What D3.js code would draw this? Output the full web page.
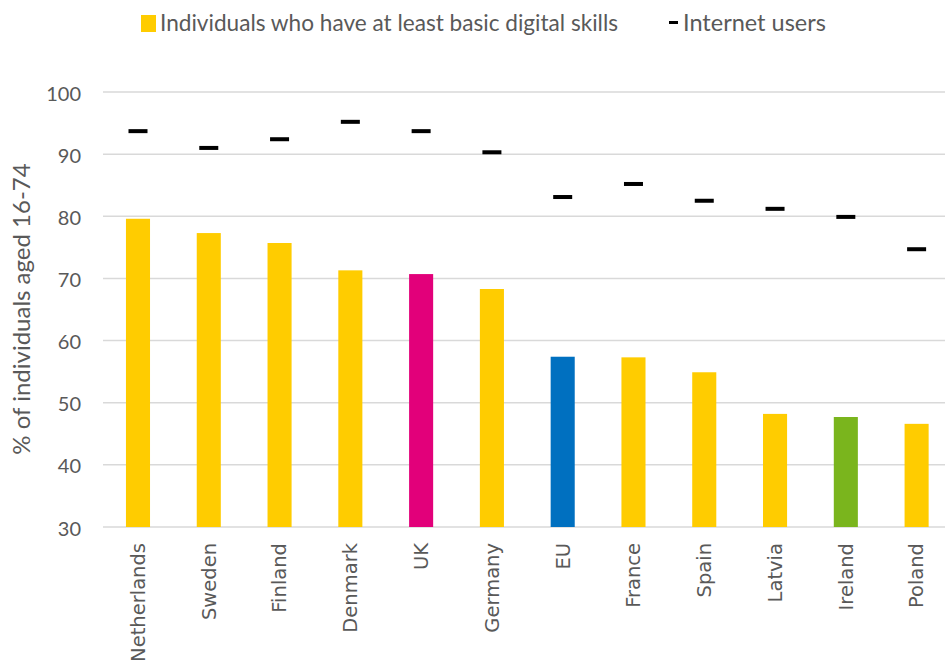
<!DOCTYPE html>
<html><head><meta charset="utf-8">
<script src="https://cdn.jsdelivr.net/npm/d3@7"></script>
<style>body{margin:0;background:#fff}</style>
</head><body>
<script>
const categories = ["Netherlands","Sweden","Finland","Denmark","UK","Germany","EU","France","Spain","Latvia","Ireland","Poland"];
const basicSkills = [79.6,77.3,75.7,71.3,70.7,68.3,57.4,57.3,54.9,48.2,47.7,46.6];
const internetUsers = [93.7,91.0,92.4,95.2,93.7,90.3,83.1,85.2,82.5,81.2,79.9,74.7];
const barColors = ["#FFCC00","#FFCC00","#FFCC00","#FFCC00","#E2007A","#FFCC00","#0070C0","#FFCC00","#FFCC00","#FFCC00","#7AB51D","#FFCC00"];
const yTicks = [30,40,50,60,70,80,90,100];
const legendLabels = ["Individuals who have at least basic digital skills","Internet users"];
const yTitle = "% of individuals aged 16-74";

const W=945,H=662;
const svg=d3.select("body").append("svg").attr("width",W).attr("height",H);
const x=d3.scaleBand().domain(categories).range([102.6,952]).paddingInner(0.66).paddingOuter(0.33);
const y=d3.scaleLinear().domain([30,100]).range([527,92]);
const txt="#595959";
const fontA="Lato, 'Open Sans', sans-serif";

// gridlines
svg.append("g").selectAll("line").data(yTicks).join("line")
  .attr("x1",103).attr("x2",W).attr("y1",d=>y(d)).attr("y2",d=>y(d))
  .attr("stroke","#D9D9D9").attr("stroke-width",1.5);

// y axis labels
const ya=svg.append("g").attr("transform","translate(81,0)").call(d3.axisLeft(y).tickValues(yTicks).tickSize(0).tickPadding(0));
ya.select(".domain").remove();
ya.attr("font-family",null).attr("font-size",null);
ya.selectAll("text").attr("fill",txt).style("font-family",fontA).style("font-size","20px").attr("dy","0.4em");

// y title
svg.append("text").attr("transform","translate(30,309) rotate(-90)").attr("text-anchor","middle")
  .attr("fill",txt).style("font-family",fontA).style("font-size","24px").text(yTitle);

// bars
svg.append("g").selectAll("rect").data(categories).join("rect")
  .attr("x",d=>x(d)).attr("width",x.bandwidth())
  .attr("y",(d,i)=>y(basicSkills[i])).attr("height",(d,i)=>y(30)-y(basicSkills[i]))
  .attr("fill",(d,i)=>barColors[i]);

// markers
const mw=19;
svg.append("g").selectAll("rect").data(categories).join("rect")
  .attr("x",d=>x(d)+x.bandwidth()/2-mw/2).attr("width",mw)
  .attr("y",(d,i)=>y(internetUsers[i])-2).attr("height",4).attr("fill","#000");

// x labels
const xa=svg.append("g").attr("transform","translate(0,527)").call(d3.axisBottom(x).tickSize(0).tickPadding(0));
xa.select(".domain").remove();
xa.attr("font-family",null).attr("font-size",null);
xa.selectAll("text").attr("fill",txt).style("font-family","'DejaVu Sans', Verdana, sans-serif").style("font-size","19.5px")
  .attr("text-anchor","end").attr("dy","0.35em").attr("transform","translate(0,16) rotate(-90)").attr("x",0).attr("y",0);

// legend
svg.append("rect").attr("x",141).attr("y",15).attr("width",15).attr("height",17).attr("fill","#FFCC00");
svg.append("text").attr("x",160).attr("y",31).attr("fill",txt).style("font-family",fontA).style("font-size","22.6px").text(legendLabels[0]);
svg.append("rect").attr("x",669).attr("y",21).attr("width",9).attr("height",3).attr("fill","#000");
svg.append("text").attr("x",683).attr("y",31).attr("fill",txt).style("font-family",fontA).style("font-size","23.5px").text(legendLabels[1]);
</script>
</body></html>
